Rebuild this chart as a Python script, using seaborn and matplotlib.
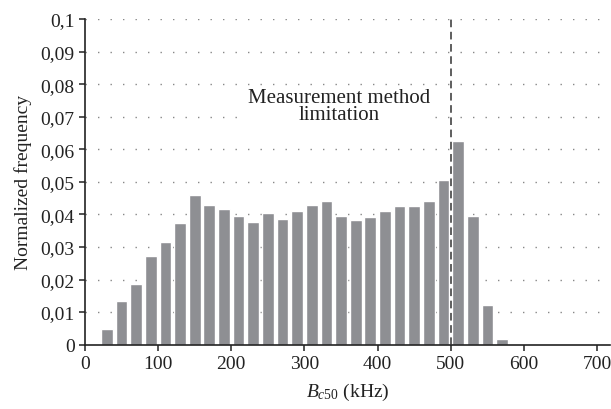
import matplotlib
matplotlib.use('Agg')
import matplotlib.pyplot as plt
import matplotlib.ticker as mticker
import seaborn as sns
import numpy as np

# bin centres (kHz) and normalized frequency
bin_centres = [30, 50, 70, 90, 110, 130, 150, 170, 190, 210, 230, 250, 270, 290,
               310, 330, 350, 370, 390, 410, 430, 450, 470, 490, 510, 530, 550, 570]
norm_freq = [0.0048, 0.0134, 0.0186, 0.0272, 0.0315, 0.0374, 0.0459, 0.0429,
             0.0416, 0.0395, 0.0377, 0.0404, 0.0386, 0.0410, 0.0428, 0.0440,
             0.0395, 0.0382, 0.0391, 0.0410, 0.0425, 0.0425, 0.0440, 0.0505,
             0.0625, 0.0395, 0.0122, 0.0017]
limit_khz = 500
y_ticks = [0, 0.01, 0.02, 0.03, 0.04, 0.05, 0.06, 0.07, 0.08, 0.09, 0.1]
x_ticks = [0, 100, 200, 300, 400, 500, 600, 700]

sns.set_style("ticks")
plt.rcParams['font.family'] = ['Liberation Serif', 'DejaVu Serif']
plt.rcParams['mathtext.fontset'] = 'custom'
plt.rcParams['mathtext.rm'] = 'Liberation Serif'
plt.rcParams['mathtext.it'] = 'Liberation Serif:italic'

fig = plt.figure(figsize=(6.11, 4.10), dpi=100)
ax = fig.add_axes([0.139, 0.157, 0.860, 0.794])

sns.barplot(x=bin_centres, y=norm_freq, native_scale=True, width=0.8,
            color='#8e8f93', saturation=1, ax=ax)

# dotted horizontal grid
for v in y_ticks[1:]:
    ax.axhline(v, color='#888888', lw=1.0, ls=(0, (1, 8)), zorder=0)

ax.axvline(limit_khz, color='#333333', lw=1.1, ls=(0, (5, 3)), zorder=3)
ax.text(347, 0.0733, 'Measurement method\nlimitation', ha='center', va='center',
        fontsize=15, color='#222222', linespacing=0.8,
        bbox=dict(facecolor='white', edgecolor='none', pad=0.3))

ax.set_xlim(0, 718)
ax.set_ylim(0, 0.1)
ax.set_xticks(x_ticks)
ax.set_yticks(y_ticks)
ax.yaxis.set_major_formatter(mticker.FuncFormatter(
    lambda v, p: '{:g}'.format(round(v, 2)).replace('.', ',')))
ax.tick_params(labelsize=14, colors='#222222', length=4, width=1.1)
for s in ['top', 'right']:
    ax.spines[s].set_visible(False)
for s in ['left', 'bottom']:
    ax.spines[s].set_linewidth(1.2)
    ax.spines[s].set_color('#222222')

ax.set_xlabel(r'$B_{c\mathrm{50}}$ (kHz)', fontsize=14, color='#222222', labelpad=6)
ax.set_ylabel('Normalized frequency', fontsize=14, color='#222222', labelpad=6)

fig.savefig('out.png', dpi=100)
